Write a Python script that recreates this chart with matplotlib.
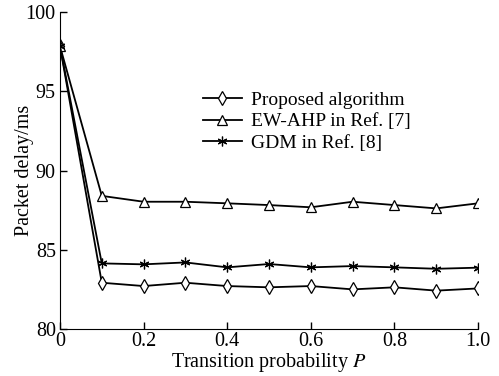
import matplotlib
matplotlib.use("Agg")
import matplotlib.pyplot as plt

p = [0.0, 0.1, 0.2, 0.3, 0.4, 0.5, 0.6, 0.7, 0.8, 0.9, 1.0]
proposed = [97.85, 82.92, 82.71, 82.92, 82.71, 82.63, 82.71, 82.50, 82.63, 82.42, 82.56]
ew_ahp = [97.85, 88.40, 88.03, 88.03, 87.93, 87.82, 87.68, 88.03, 87.82, 87.61, 87.93]
gdm = [97.85, 84.14, 84.08, 84.20, 83.89, 84.10, 83.89, 83.97, 83.89, 83.80, 83.87]
labels = ["Proposed algorithm", "EW-AHP in Ref. [7]", "GDM in Ref. [8]"]

plt.rcParams["font.family"] = ["Liberation Serif", "DejaVu Serif"]
plt.rcParams["mathtext.fontset"] = "stix"

fig = plt.figure(figsize=(4.99, 3.76), dpi=100)
ax = fig.add_axes([0.1202, 0.125, 0.8378, 0.843])

style = dict(color="black", lw=1.3, markersize=7, markerfacecolor="white",
             markeredgecolor="black", markeredgewidth=0.9)
ax.plot(p, proposed, marker="d", label=labels[0], **style)
ax.plot(p, ew_ahp, marker="^", label=labels[1], **style)
ax.plot(p, gdm, marker=(6, 2, 0), label=labels[2], **style)

ax.set_xlim(0, 1.0)
ax.set_ylim(80, 100)
ax.set_xticks([0, 0.2, 0.4, 0.6, 0.8, 1.0])
ax.set_xticklabels(["0", "0.2", "0.4", "0.6", "0.8", "1.0"])
ax.set_yticks([80, 85, 90, 95, 100])
ax.spines[["top", "right"]].set_visible(False)
ax.tick_params(direction="in", length=5, width=1, labelsize=14.5)
ax.tick_params(axis="x", pad=2)
ax.tick_params(axis="y", pad=3)
ax.set_xlabel("Transition probability $P$", fontsize=14.5, labelpad=0)
ax.set_ylabel("Packet delay/ms", fontsize=14.5, labelpad=-6)

ax.legend(loc="upper left", bbox_to_anchor=(0.342, 0.75), frameon=False,
          fontsize=14, handlelength=2.0, handletextpad=0.45, labelspacing=0.2,
          borderaxespad=0, borderpad=0)

fig.savefig("out.png", dpi=100)
